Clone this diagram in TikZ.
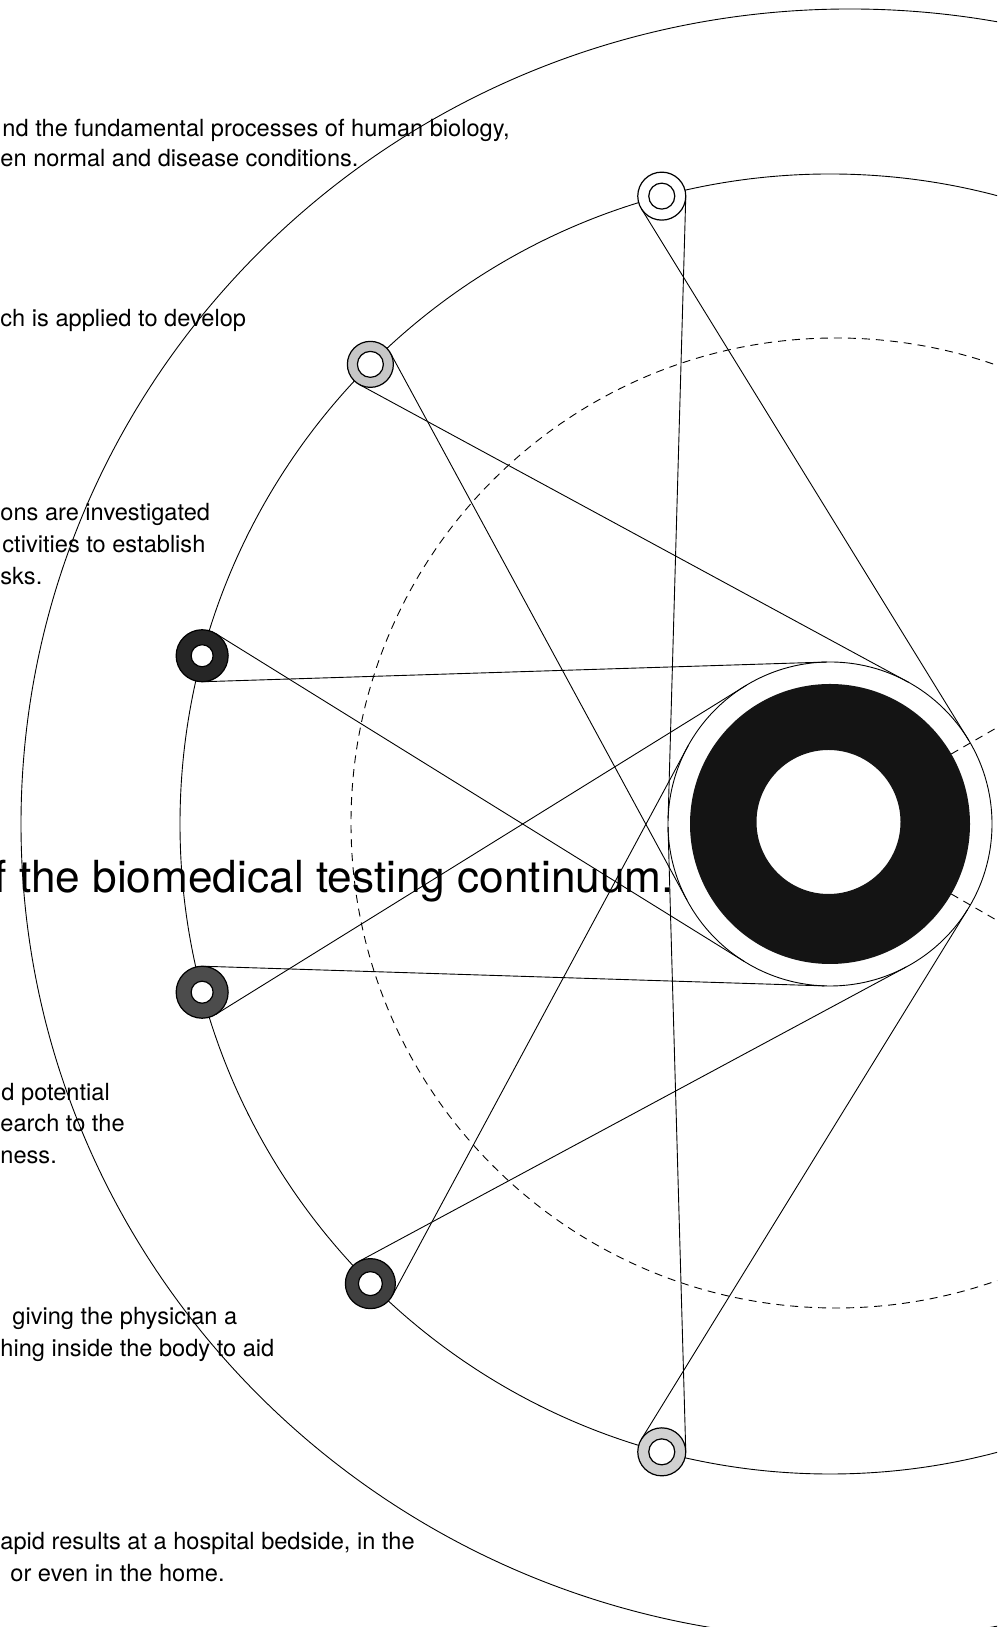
\documentclass[tikz,border=0pt]{standalone}
\usepackage{fontspec}
\setmainfont{TeX Gyre Heros}
\usetikzlibrary{calc}
\begin{document}
\begin{tikzpicture}[x=0.5pt,y=0.5pt, line width=0.45pt,
  ringnode/.style={circle, draw, line width=0.6pt, inner sep=0pt, outer sep=0pt},
  bodytext/.style={anchor=base west, inner sep=0pt, font=\fontsize{11.8pt}{16pt}\selectfont},
  bigtext/.style={anchor=base west, inner sep=0pt, font=\fontsize{22.1pt}{26pt}\selectfont},
  tang/.style={line width=0.45pt},
  dashline/.style={dashed, dash pattern=on 4pt off 3pt},
  ]
\useasboundingbox (0,0) rectangle (997,1627);
\clip (0,0) rectangle (997,1627);
\coordinate (C) at (830,803);
% big circles
\draw (850,803) ellipse [x radius=829, y radius=815];
\draw[dashline] (836,804) circle (485);
\draw (C) circle (650);
% hub
\node[circle, draw, minimum size=162pt, inner sep=0pt, outer sep=0pt] (hub) at (C) {};
\fill[black!92, even odd rule] (C) circle (140) (828.5,805) circle (72);
\draw[dashline] ($(C)+(30:140)$) -- ($(C)+(30:220)$);
\draw[dashline] ($(C)+(-30:140)$) -- ($(C)+(-30:220)$);
% rings
\foreach \t/\n/\col/\ro/\ri in {105/1/white/24/13, 135/2/black!22/23/13, 165/3/black!85/26/11, 195/4/black!70/26/11, 225/5/black!75/25/12, 255/6/black!18/24/13}{
  \node[ringnode, fill=\col, minimum size=\ro pt] (r\n) at ($(C)+(\t:650)$) {};
  \draw[line width=0.6pt, fill=white] (r\n) circle (\ri);
  \pgfmathsetmacro\ha{mod(\t+73.3+360,360)}
  \pgfmathsetmacro\hb{mod(\t-73.3+360,360)}
  \pgfmathsetmacro\ra{mod(\ha+180,360)}
  \pgfmathsetmacro\rb{mod(\hb+180,360)}
  \draw[tang] (r\n.\ra) -- (hub.\ha);
  \draw[tang] (r\n.\rb) -- (hub.\hb);
}
% texts
\node[bodytext] (t1a) at (2,1490) {nd the fundamental processes of human biology,};
\node[bodytext] (t1b) at (0,1460) {en normal and disease conditions.};
\node[bodytext] (t2a) at (0,1300) {ch is applied to develop};
\node[bodytext] (t3a) at (0,1106) {ons are investigated};
\node[bodytext] (t3b) at (2,1074) {ctivities to establish};
\node[bodytext] (t3c) at (0,1042) {sks.};
\node[bigtext] (big) at (-30.5,734) {of the biomedical testing continuum.};
\node[bodytext] (t5a) at (1,526) {d potential};
\node[bodytext] (t5b) at (0,495) {earch to the};
\node[bodytext] (t5c) at (0,463) {ness.};
\node[bodytext] (t6a) at (12,302) {giving the physician a};
\node[bodytext] (t6b) at (0,270) {hing inside the body to aid};
\node[bodytext] (t7a) at (0,77) {apid results at a hospital bedside, in the};
\node[bodytext] (t7b) at (10,45) {or even in the home.};
\end{tikzpicture}
\end{document}
